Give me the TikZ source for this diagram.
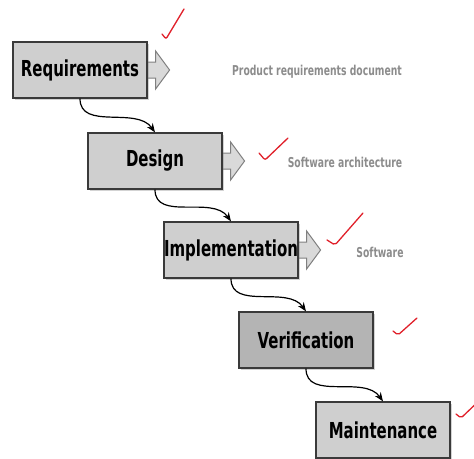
\documentclass[tikz,border=0pt]{standalone}
\usepackage{fontspec}
\setmainfont{DejaVu Sans}
\newfontfamily\phasefont[FakeStretch=0.68]{DejaVu Sans}
\usetikzlibrary{arrows.meta, shadows, backgrounds}

\definecolor{boxgray}{HTML}{CFCFCF}
\definecolor{darkgray}{HTML}{B4B4B4}
\definecolor{edgegray}{HTML}{3A3A3A}
\definecolor{docgray}{HTML}{8C8C8C}
\definecolor{checkred}{HTML}{E0202A}

% hollow output arrow on the right side of a phase box
\newcommand\outarrow[1]{%
  \draw[docarrow] ([yshift=8]#1.east) -- ++(8,0) -- ++(0,11) -- ++(14,-19)
    -- ++(-14,-19) -- ++(0,11) -- ++(-8,0);}

\begin{document}
\begin{tikzpicture}[x=1pt, y=1pt,
  phase/.style={draw=edgegray, line width=1.2pt, fill=boxgray,
    minimum width=134pt, minimum height=56pt, inner sep=0pt,
    font=\phasefont\bfseries\fontsize{22}{24}\selectfont,
    drop shadow={shadow xshift=1.5pt, shadow yshift=-1.5pt, opacity=.35}},
  docarrow/.style={draw=gray, line width=1pt, fill=boxgray!80!white},
  doc/.style={text=docgray, font=\phasefont\bfseries\fontsize{13.6}{15}\selectfont},
  flow/.style={line width=1.2pt, -{Stealth[length=9pt, width=7pt]}},
  okmark/.style={draw=checkred, line width=1.3pt, line cap=round, rounded corners=2pt}]
  \useasboundingbox (0,0) rectangle (474,-458);
  \clip (0,0) rectangle (474,-458);

  \node[phase] (req) at (80,-70) {Requirements};
  \node[phase] (design) at (155,-161) {Design};
  \node[phase] (impl) at (231,-250) {Implementation};
  \node[phase, fill=darkgray] (verif) at (306,-340) {Verification};
  \node[phase] (maint) at (383,-430) {Maintenance};

  \begin{scope}[on background layer]
    \outarrow{req}
    \outarrow{design}
    \outarrow{impl}
  \end{scope}

  \node[doc] (prd) at (317,-72) {Product requirements document};
  \node[doc] (arch) at (345,-162) {Software architecture};
  \node[doc] (sw) at (380,-252) {Software};

  \draw[flow] (req.south) to[out=-90, in=125] (design.north);
  \draw[flow] (design.south) to[out=-90, in=125] (impl.north);
  \draw[flow] (impl.south) to[out=-90, in=125] (verif.north);
  \draw[flow] (verif.south) to[out=-90, in=125] (maint.north);

  % ticks
  \draw[okmark] (162,-34) -- (166,-39) -- (184,-9);
  \draw[okmark] (259,-153) -- (265,-160) -- (288,-138);
  \draw[okmark] (327,-240) -- (335,-245) -- (363,-213);
  \draw[okmark] (393,-331) -- (398,-335) -- (417,-318);
  \draw[okmark] (456,-414) -- (461,-418) -- (482,-398);
\end{tikzpicture}
\end{document}
